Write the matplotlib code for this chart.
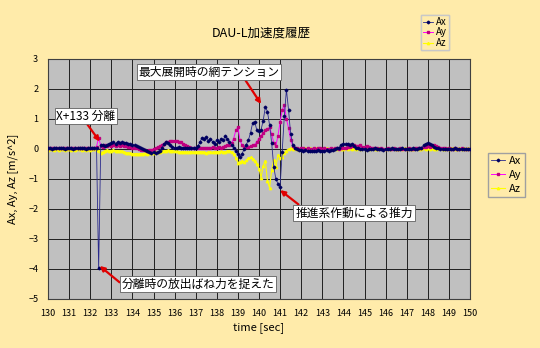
import numpy as np
import matplotlib
matplotlib.use("Agg")
import matplotlib.pyplot as plt

plt.rcParams['font.family'] = ['Noto Sans CJK JP', 'DejaVu Sans']

# DAU-L accelerometer log, sampled at 10 Hz from 130 s to 150 s
time = np.round(np.arange(130.0, 150.05, 0.1), 1)

ax_vals = [
    0.02, 0.03, 0.01, 0.04, 0.02, 0.03, 0.05, 0.02, 0.01, 0.03,
    0.02, 0.04, 0.01, 0.03, 0.02, 0.05, 0.02, 0.03, 0.01, 0.04,
    0.02, 0.03, 0.05, 0.02, -3.97, 0.12, 0.15, 0.10, 0.14, 0.18,
    0.20, 0.22, 0.18, 0.24, 0.20, 0.22, 0.19, 0.21, 0.17, 0.16,
    0.14, 0.12, 0.10, 0.07, 0.04, 0.00, -0.04, -0.08, -0.10, -0.12,
    -0.10, -0.12, -0.10, -0.06, 0.05, 0.18, 0.22, 0.20, 0.12, 0.06,
    0.05, 0.03, 0.06, 0.02, 0.04, 0.03, 0.05, 0.02, 0.04, 0.03,
    0.05, 0.10, 0.22, 0.38, 0.35, 0.40, 0.28, 0.32, 0.25, 0.18,
    0.30, 0.22, 0.35, 0.30, 0.42, 0.35, 0.25, 0.15, 0.05, -0.05,
    -0.15, -0.25, -0.15, 0.00, 0.15, 0.30, 0.55, 0.87, 0.90, 0.62,
    0.60, 0.65, 0.95, 1.40, 1.25, 0.80, 0.20, -0.60, -1.00, -1.15,
    -1.25, -0.10, 1.10, 1.98, 1.30, 0.50, 0.15, 0.05, 0.00, -0.02,
    -0.03, -0.05, -0.04, -0.06, -0.05, -0.07, -0.05, -0.06, -0.04, -0.05,
    -0.05, -0.06, -0.04, -0.05, -0.03, -0.02, 0.00, 0.02, 0.05, 0.15,
    0.17, 0.16, 0.18, 0.15, 0.17, 0.10, 0.05, 0.02, 0.00, -0.01,
    0.00, -0.02, 0.01, -0.01, 0.00, 0.02, -0.01, 0.01, 0.00, -0.02,
    0.01, 0.00, -0.01, 0.02, 0.00, -0.01, 0.01, 0.00, 0.02, -0.01,
    0.00, 0.01, -0.01, 0.02, 0.00, 0.01, 0.03, 0.05, 0.12, 0.18,
    0.20, 0.18, 0.15, 0.08, 0.05, 0.03, 0.01, 0.00, -0.01, 0.00,
    0.01, -0.01, 0.00, 0.02, 0.00, -0.01, 0.01, 0.00, -0.01, 0.01,
    0.00,
]

ay_vals = [
    0.03, 0.02, 0.04, 0.03, 0.02, 0.05, 0.03, 0.04, 0.02, 0.03,
    0.04, 0.02, 0.03, 0.05, 0.03, 0.02, 0.04, 0.03, 0.05, 0.04,
    0.03, 0.05, 0.04, 0.08, 0.38, 0.10, 0.08, 0.12, 0.10, 0.12,
    0.10, 0.12, 0.10, 0.13, 0.11, 0.12, 0.10, 0.09, 0.08, 0.06,
    0.05, 0.04, 0.02, 0.00, -0.02, -0.03, -0.04, -0.05, -0.04, -0.02,
    0.00, 0.03, 0.06, 0.10, 0.15, 0.18, 0.22, 0.25, 0.26, 0.28,
    0.27, 0.28, 0.25, 0.22, 0.18, 0.14, 0.10, 0.07, 0.05, 0.04,
    0.03, 0.04, 0.02, 0.03, 0.05, 0.04, 0.03, 0.05, 0.06, 0.04,
    0.05, 0.06, 0.04, 0.08, 0.10, 0.12, 0.15, 0.20, 0.35, 0.62,
    0.72, 0.30, 0.12, 0.08, 0.06, 0.08, 0.10, 0.12, 0.15, 0.25,
    0.35, 0.45, 0.55, 0.62, 0.68, 0.72, 0.50, 0.20, 0.10, 0.45,
    0.90, 1.30, 1.47, 1.00, 0.70, 0.30, 0.10, 0.05, 0.03, 0.01,
    0.02, 0.03, 0.01, 0.02, 0.00, 0.01, 0.02, 0.01, 0.03, 0.02,
    0.01, 0.02, 0.00, 0.01, 0.02, 0.01, 0.03, 0.02, 0.01, 0.03,
    0.04, 0.05, 0.06, 0.08, 0.10, 0.12, 0.11, 0.10, 0.12, 0.08,
    0.07, 0.10, 0.06, 0.05, 0.04, 0.02, 0.03, 0.01, 0.02, 0.00,
    0.01, 0.02, 0.00, 0.01, 0.02, 0.01, 0.00, 0.02, 0.01, 0.00,
    0.01, 0.02, 0.00, 0.01, 0.03, 0.02, 0.04, 0.05, 0.06, 0.08,
    0.10, 0.08, 0.10, 0.12, 0.09, 0.07, 0.05, 0.03, 0.02, 0.01,
    0.02, 0.00, 0.01, 0.02, 0.00, 0.01, 0.02, 0.00, 0.01, 0.00,
    0.01,
]

az_vals = [
    -0.02, 0.00, -0.01, -0.03, 0.00, -0.02, -0.01, 0.01, -0.02, -0.01,
    -0.01, -0.03, 0.00, -0.02, -0.01, 0.00, -0.02, -0.01, -0.03, 0.00,
    -0.02, -0.01, 0.00, -0.02, -0.05, -0.12, -0.10, -0.05, -0.04, -0.06,
    -0.05, -0.04, -0.06, -0.05, -0.07, -0.08, -0.10, -0.12, -0.13, -0.14,
    -0.15, -0.16, -0.15, -0.17, -0.16, -0.15, -0.14, -0.15, -0.13, -0.12,
    -0.12, -0.10, -0.11, -0.09, -0.08, -0.06, -0.05, -0.04, -0.05, -0.06,
    -0.07, -0.08, -0.09, -0.10, -0.09, -0.10, -0.11, -0.10, -0.09, -0.10,
    -0.11, -0.10, -0.09, -0.10, -0.11, -0.12, -0.10, -0.09, -0.11, -0.10,
    -0.09, -0.10, -0.08, -0.10, -0.09, -0.07, -0.06, -0.10, -0.15, -0.30,
    -0.45, -0.42, -0.40, -0.43, -0.38, -0.30, -0.28, -0.32, -0.40, -0.50,
    -0.65, -0.95, -0.55, -0.40, -1.05, -1.30, -0.70, -0.35, -0.60, -0.20,
    -0.30, -0.25, -0.12, -0.05, 0.00, 0.02, 0.01, 0.02, 0.00, 0.01,
    0.02, 0.00, 0.03, 0.01, 0.02, 0.00, 0.01, 0.03, 0.02, 0.00,
    0.01, 0.03, 0.02, 0.00, 0.02, 0.01, 0.03, 0.00, 0.02, 0.01,
    0.00, 0.02, 0.01, 0.03, 0.01, 0.02, 0.00, 0.02, 0.01, 0.03,
    0.02, 0.00, 0.01, 0.03, 0.02, 0.01, 0.00, 0.02, 0.03, 0.01,
    0.00, 0.02, 0.01, 0.03, 0.02, 0.00, 0.01, 0.02, 0.00, 0.03,
    0.01, 0.02, 0.00, 0.01, 0.03, 0.02, 0.01, 0.00, 0.02, 0.01,
    0.03, 0.01, 0.02, 0.00, 0.01, 0.02, 0.03, 0.01, 0.00, 0.02,
    0.01, 0.03, 0.02, 0.00, 0.01, 0.02, 0.00, 0.03, 0.01, 0.02,
    0.01,
]

x_ticks = list(range(130, 151))
y_ticks = list(range(-5, 4))

bg = '#FFEBAA'
fig = plt.figure(figsize=(5.4, 3.48), dpi=100, facecolor=bg)
ax = fig.add_axes([48 / 540, 1 - 299 / 348, 422 / 540, 240 / 348])
ax.set_facecolor('#C0C0C0')

l_ax, = ax.plot(time, ax_vals, color='#2A2A8C', lw=0.6, marker='D', ms=1.4,
                mfc='#000060', mec='#000060', label='Ax', zorder=4)
l_ay, = ax.plot(time, ay_vals, color='#FF00FF', lw=0.7, marker='s', ms=1.5,
                mfc='#C00080', mec='#C00080', label='Ay', zorder=3)
l_az, = ax.plot(time, az_vals, color='#FFFF00', lw=0.8, marker='^', ms=1.7, label='Az', zorder=2)

ax.set_xlim(130, 150)
ax.set_ylim(-5, 3)
ax.set_xticks(x_ticks)
ax.set_yticks(y_ticks)
ax.tick_params(length=0, labelsize=6.5, pad=7)
ax.grid(True, color='#202020', lw=0.7)
ax.set_axisbelow(True)
for s in ax.spines.values():
    s.set_color('#404040')
    s.set_linewidth(0.8)

ax.set_xlabel('time [sec]', fontsize=8, labelpad=3)
ax.set_ylabel('Ax, Ay, Az [m/s^2]', fontsize=8, labelpad=7)
fig.text(261 / 540, 1 - 33 / 348, 'DAU-L加速度履歴', ha='center', va='center', fontsize=9)

# callouts with red arrows; relpos sets where each arrow leaves its box
box = dict(boxstyle='square,pad=0.15', fc='white', ec='#606060', lw=0.6)
notes = [
    ('X+133 分離', (132.45, 0.25), (86, 348 - 116), (0.5, 0.0)),
    ('最大展開時の網テンション', (140.1, 1.5), (209, 348 - 72), (0.75, 0.0)),
    ('推進系作動による推力', (141.0, -1.37), (354, 348 - 213), (0.05, 1.0)),
    ('分離時の放出ばね力を捉えた', (132.45, -3.9), (198, 348 - 284), (0.0, 0.5)),
]
for txt, xy, xytext, rel in notes:
    arrow = dict(arrowstyle='-|>', color='#E00000', lw=1.6, mutation_scale=7,
                 shrinkA=0, shrinkB=0, relpos=rel)
    ax.annotate(txt, xy=xy, xycoords='data', xytext=xytext, textcoords='figure pixels',
                ha='center', va='center', fontsize=8.5, bbox=box, arrowprops=arrow, zorder=6)

# small legend above the plot and the main one to the right
leg1 = ax.legend(handles=[l_ax, l_ay, l_az], loc='upper left',
                 bbox_to_anchor=(421 / 540, 1 - 15 / 348), bbox_transform=fig.transFigure,
                 fontsize=7, handlelength=1.0, handletextpad=0.3, borderpad=0.2,
                 labelspacing=0.05, borderaxespad=0, fancybox=False, facecolor=bg,
                 edgecolor='#C8C8C8', framealpha=1)
ax.add_artist(leg1)
fig.legend(handles=[l_ax, l_ay, l_az], loc='upper left',
           bbox_to_anchor=(488 / 540, 1 - 153 / 348), bbox_transform=fig.transFigure,
           fontsize=8, handlelength=1.2, handletextpad=0.4, borderpad=0.3,
           labelspacing=0.35, borderaxespad=0, fancybox=False, facecolor=bg,
           edgecolor='#A0A0A0', framealpha=1)

fig.savefig('out.png', dpi=100, facecolor=bg)
